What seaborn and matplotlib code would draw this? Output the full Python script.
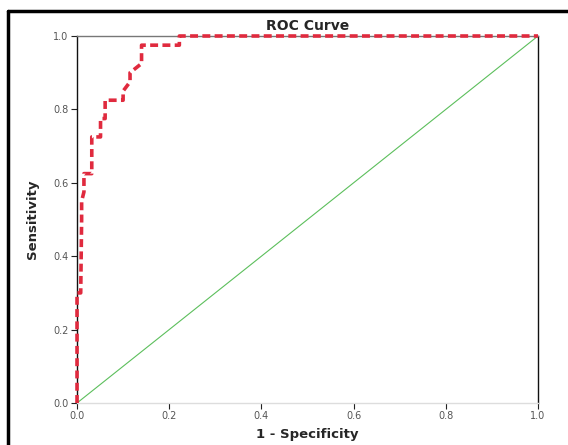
import matplotlib
matplotlib.use("Agg")
import matplotlib.pyplot as plt
import seaborn as sns
import pandas as pd
from matplotlib.lines import Line2D

# ===============================
# DATA
# ===============================
fpr = [0.0, 0.0, 0.008, 0.010, 0.010, 0.015, 0.015, 0.032, 0.032, 0.051, 0.051,
       0.061, 0.061, 0.100, 0.100, 0.115, 0.115, 0.140, 0.140, 0.222, 0.222, 1.0]
tpr = [0.0, 0.300, 0.300, 0.500, 0.550, 0.575, 0.625, 0.625, 0.725, 0.725, 0.775,
       0.775, 0.825, 0.825, 0.850, 0.875, 0.900, 0.925, 0.975, 0.975, 1.0, 1.0]
ref_x = [0.0, 1.0]
ref_y = [0.0, 1.0]
tick_vals = [0.0, 0.2, 0.4, 0.6, 0.8, 1.0]
tick_labels = ["0.0", "0.2", "0.4", "0.6", "0.8", "1.0"]

roc = pd.DataFrame({"fpr": fpr, "tpr": tpr})
ref = pd.DataFrame({"x": ref_x, "y": ref_y})

# ===============================
# PLOT
# ===============================
sns.set_style("white")
fig = plt.figure(figsize=(5.68, 4.45), dpi=100)
ax = fig.add_axes([0.1356, 0.0944, 0.8116, 0.8247])

sns.lineplot(data=ref, x="x", y="y", ax=ax, color="#5cbf5c", linewidth=0.8,
             sort=False, estimator=None, zorder=2)
sns.lineplot(data=roc, x="fpr", y="tpr", ax=ax, color="#e02a3e", linewidth=2.6,
             linestyle=(0, (2.2, 1.2)), sort=False, estimator=None, zorder=3,
             clip_on=False)

ax.set_xlim(0, 1)
ax.set_ylim(0, 1)
ax.set_xticks(tick_vals)
ax.set_xticklabels(tick_labels)
ax.set_yticks(tick_vals)
ax.set_yticklabels(tick_labels)
ax.tick_params(axis="both", direction="out", length=4, width=0.8, colors="#222222",
               labelsize=7, labelcolor="#555555", bottom=True, left=True, pad=2)

for side in ["left", "right"]:
    ax.spines[side].set_color("#111111")
    ax.spines[side].set_linewidth(1.0)
ax.spines["top"].set_color("#777777")
ax.spines["top"].set_linewidth(1.0)
ax.spines["bottom"].set_color("#dddddd")
ax.spines["bottom"].set_linewidth(1.0)

ax.set_title("ROC Curve", fontsize=10, fontweight="bold", pad=4)
ax.set_xlabel("1 - Specificity", fontsize=9.5, fontweight="bold", labelpad=5)
ax.set_ylabel("Sensitivity", fontsize=9.5, fontweight="bold", labelpad=10)

# outer frame (left and top edges, the rest is cropped off)
fig.add_artist(Line2D([0.0141, 0.0141], [0.0, 0.975], color="black", linewidth=2.5,
                      transform=fig.transFigure))
fig.add_artist(Line2D([0.0141, 1.0], [0.975, 0.975], color="black", linewidth=2.5,
                      transform=fig.transFigure))

plt.savefig("out.png", dpi=100)
